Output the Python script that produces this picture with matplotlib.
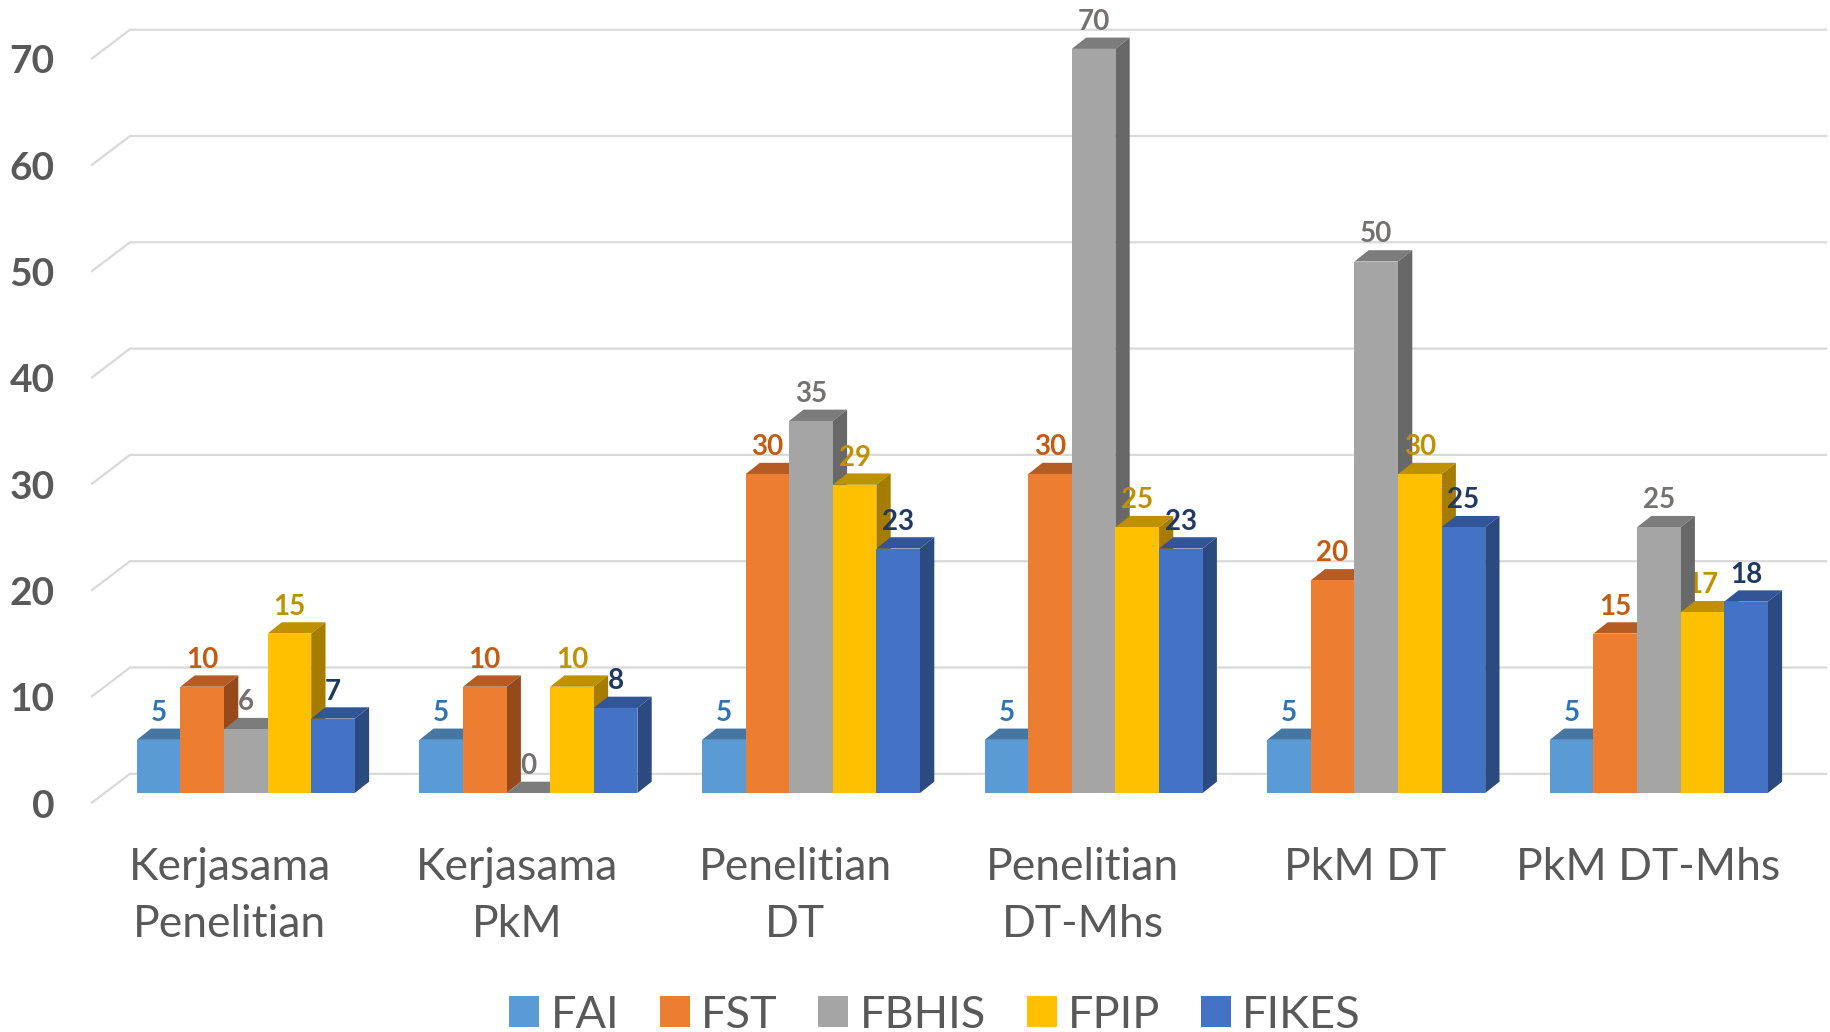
# %% IMPORTS
import matplotlib
matplotlib.use('Agg')
import matplotlib.pyplot as plt
from matplotlib.patches import Rectangle

plt.rcParams['font.family'] = ['Lato', 'DejaVu Sans']

# %% DATA
categories = ['Kerjasama\nPenelitian', 'Kerjasama\nPkM', 'Penelitian\nDT',
              'Penelitian\nDT-Mhs', 'PkM DT', 'PkM DT-Mhs']
series_names = ['FAI', 'FST', 'FBHIS', 'FPIP', 'FIKES']
fai = [5, 5, 5, 5, 5, 5]
fst = [10, 10, 30, 30, 20, 15]
fbhis = [6, 0, 35, 70, 50, 25]
fpip = [15, 10, 29, 25, 30, 17]
fikes = [7, 8, 23, 23, 25, 18]
y_ticks = [0, 10, 20, 30, 40, 50, 60, 70]

front_colors = ['#5B9BD5', '#ED7D31', '#A5A5A5', '#FFC000', '#4472C4']
top_colors = ['#4677A3', '#B55B24', '#7C7C7C', '#BF9000', '#325597']
side_colors = ['#3E6C96', '#964A1C', '#686868', '#A67C00', '#2B4A80']
label_colors = ['#2E75B6', '#C55A11', '#767171', '#BF9000', '#1F3864']
TEXT = '#595959'
GRID = '#D9D9D9'

# %% PIXEL CALIBRATION
W, H = 1830, 1032
GROUP_PX = 282.6   # one x unit
UNIT_PX = 10.63    # one y unit
X0, Y0 = 136.8, 793.0
bar_w = 43.6 / GROUP_PX
dx = 14.3 / GROUP_PX
dy = 11.3 / UNIT_PX
label_shift = [-4, 1, -4, 1, 1, 1]


def px(n):
    return n / GROUP_PX


def py(n):
    return n / UNIT_PX


fig = plt.figure(figsize=(W / 100, H / 100), dpi=100)
ax = fig.add_axes([0, 0, 1, 1])
ax.set_xlim(-X0 / GROUP_PX, (W - X0) / GROUP_PX)
ax.set_ylim(-(H - Y0) / UNIT_PX, Y0 / UNIT_PX)
ax.axis('off')

# %% GRID WALL
wall_x0 = px(130 - X0)
wall_x1 = px(1826 - X0)
front_x = px(92 - X0)
for t in y_ticks:
    ax.plot([front_x, wall_x0, wall_x1],
            [t - py(9.6), t + py(19.2), t + py(19.2)],
            color=GRID, lw=1.6, solid_joinstyle='miter', zorder=1)
    ax.text(px(54.5 - X0), t - py(13), str(t), ha='right', va='center',
            fontsize=28, fontweight='bold', color=TEXT)

# %% BARS
series = [fai, fst, fbhis, fpip, fikes]
z = 2
for i in range(len(categories)):
    for j, values in enumerate(series):
        v = values[i]
        x = i + j * bar_w
        ax.fill([x, x + dx, x + bar_w + dx, x + bar_w],
                [v, v + dy, v + dy, v], color=top_colors[j], lw=0, zorder=z)
        ax.fill([x + bar_w, x + bar_w + dx, x + bar_w + dx, x + bar_w],
                [0, dy, v + dy, v], color=side_colors[j], lw=0, zorder=z)
        ax.bar(x, v, width=bar_w, align='edge', color=front_colors[j],
               lw=0, zorder=z + 1)
        ax.text(x + bar_w / 2, v + py(27), str(v), ha='center', va='center',
                fontsize=20, fontweight='bold', color=label_colors[j],
                zorder=50)
        z += 2
    ax.text(i + px(97 + label_shift[i]),
            py(-74) if '\n' not in categories[i] else py(-103),
            categories[i], ha='center', va='center', fontsize=32,
            color=TEXT, linespacing=1.49)

# %% LEGEND
handles = [Rectangle((0, 0), 1, 1, color=c, lw=0) for c in front_colors]
fig.legend(handles, series_names, loc='center', ncols=5, frameon=False,
           bbox_to_anchor=(935 / W, 1 - 1015 / H), fontsize=32.5,
           labelcolor=TEXT, handlelength=0.665, handleheight=0.665,
           handletextpad=0.25, columnspacing=0.9, borderpad=0,
           borderaxespad=0)

fig.savefig('out.png', dpi=100)
